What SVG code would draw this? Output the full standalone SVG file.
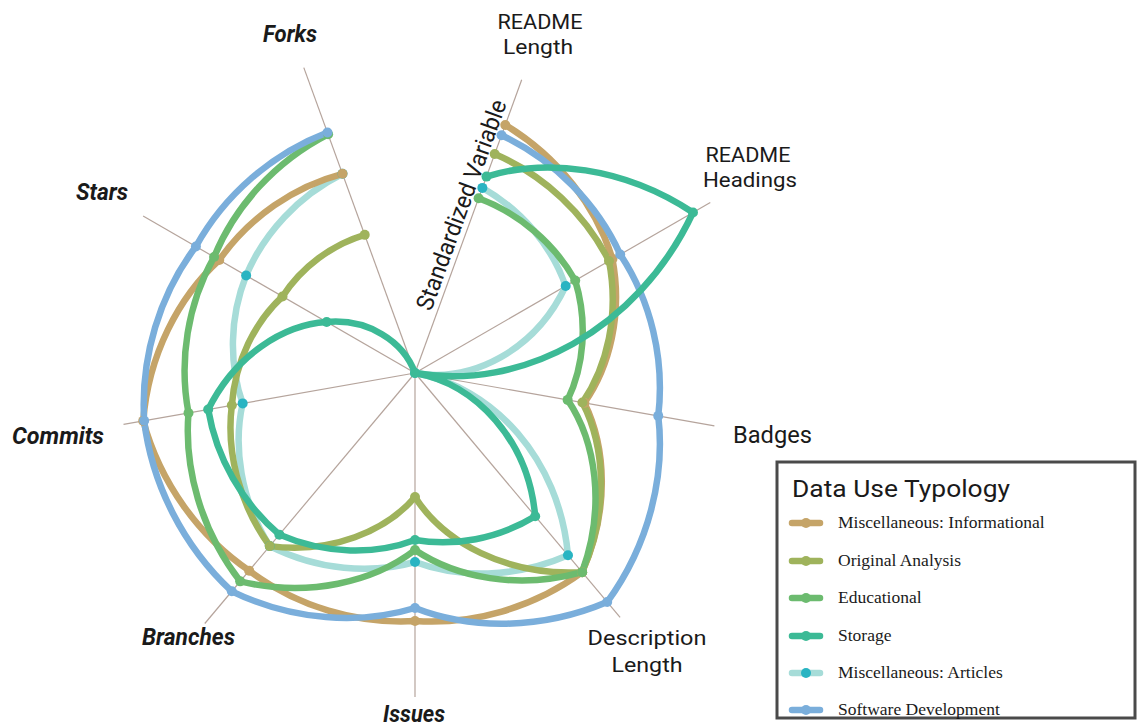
<svg xmlns="http://www.w3.org/2000/svg" width="1138" height="727" viewBox="0 0 1138 727">
<style>
.ax{stroke:#b5a49c;stroke-width:1.2;fill:none}
.ln{fill:none;stroke-width:6.5;stroke-linecap:round;stroke-linejoin:round}
.lbl{font-family:Roboto,"Liberation Sans",sans-serif;font-size:24px;fill:#1a1a1a}
.two{font-size:21px}
.bi{font-weight:bold;font-style:italic}
.leg{font-family:"Liberation Serif",serif;font-size:17.5px;fill:#1a1a1a}
.tan{stroke:#c5a468}.tanf{fill:#c5a468}
.oli{stroke:#9fb35c}.olif{fill:#9fb35c}
.grn{stroke:#6cbb6f}.grnf{fill:#6cbb6f}
.sto{stroke:#3cba96}.stof{fill:#3cba96}
.art{stroke:#a6dcd8}.artf{fill:#29b4c2}
.blu{stroke:#7aaedb}.bluf{fill:#7aaedb}
</style>
<rect width="1138" height="727" fill="#ffffff"/>
<g id="axes" transform="translate(415,373)">
<line class="ax" x1="0" y1="0" x2="106.7" y2="-293.2"/>
<line class="ax" x1="0" y1="0" x2="295.3" y2="-170.5"/>
<line class="ax" x1="0" y1="0" x2="299.4" y2="52.8"/>
<line class="ax" x1="0" y1="0" x2="205.1" y2="244.4"/>
<line class="ax" x1="0" y1="0" x2="0" y2="324"/>
<line class="ax" x1="0" y1="0" x2="-210.2" y2="250.5"/>
<line class="ax" x1="0" y1="0" x2="-291.5" y2="51.4"/>
<line class="ax" x1="0" y1="0" x2="-271.9" y2="-157"/>
<line class="ax" x1="0" y1="0" x2="-111.2" y2="-305.4"/>
</g>
<g id="connectors" transform="translate(415,373)">
<g id="series-articles">
<path class="ln art" d="M67.37,-185.12 C107.83,-162.23 137.07,-125.89 150.68,-87 C120.70,-22.94 57.12,10.07 0,0 C78.13,13.77 144.42,85.94 152.99,182.31 C100.07,205.40 43.98,205.33 0,189 C-43.98,201.33 -97.06,197.47 -145.27,173.12 C-174.62,126.30 -182.01,73.43 -172.34,30.38 C-185.98,-8.56 -185.78,-54.87 -168.87,-97.5 C-151.09,-139.63 -116.92,-177.02 -72.50,-199.22"/>
</g>
<g id="series-informational">
<path class="ln tan" d="M90.29,-248.08 C143.92,-215.79 181.31,-165.95 197.45,-114 C207.81,-58.72 194.72,-6.31 169.39,29.86 C191.33,74.36 194.62,137.80 167.13,199.16 C118.22,234.99 57.71,252 0,248 C-57.71,251.33 -117.71,233.67 -165.84,197.63 C-215.69,163.64 -254.74,110.12 -271.80,47.91 C-266.53,-18.23 -236.46,-75.79 -195.72,-113 C-165.38,-156.21 -120.46,-186.74 -72.50,-199.22"/>
</g>
<g id="series-original">
<path class="ln oli" d="M79.69,-218.95 C129.61,-197.59 170.52,-158.64 193.98,-112 C204.45,-57.86 192.02,-6.33 167.42,29.51 C190.09,73.68 194.19,137.29 167.13,199.16 C91.65,203.33 28.85,169.33 0,124 C-28.85,158 -83.13,180.88 -145.27,173.12 C-176.98,129.11 -188.79,77.22 -183.17,32.29 C-179.85,-12.24 -159.83,-51.17 -132.50,-76.5 C-112.97,-106.33 -83.10,-128.32 -50.27,-138.14"/>
</g>
<g id="series-educational">
<path class="ln grn" d="M63.61,-174.78 C104.17,-159.67 138.97,-129.95 160.21,-92.5 C173.08,-50.22 168.75,-6.87 152.64,26.91 C180.85,68.51 190.97,133.46 167.13,199.16 C103.01,216.86 41.19,204.67 0,177 C-41.19,208.67 -106.00,224.77 -174.84,208.35 C-214.32,156.95 -231.00,95.07 -226.50,39.93 C-236.45,-12.66 -227.33,-68.91 -200.91,-116 C-180.26,-166.43 -139.91,-211.57 -86.87,-238.68"/>
</g>
<g id="series-software">
<path class="ln blu" d="M86.53,-237.74 C140.03,-212.60 182.28,-168.93 205.24,-118.5 C235.71,-72.41 249.95,-14.31 243.25,42.88 C250.34,102.50 234.36,171.02 192.20,229.03 C125.19,257.42 54.68,256.33 0,235 C-54.68,251.67 -121.68,248.17 -183.20,218.31 C-231.86,173.13 -262.99,111.34 -270.82,47.74 C-274.71,-16.55 -254.89,-79.19 -219.10,-126.5 C-190.53,-177.98 -143.19,-219.25 -87.55,-240.56"/>
</g>
<g id="series-storage">
<path class="ln sto" d="M71.48,-196.40 C129.95,-214.85 208.31,-206.52 277.99,-160.5 C222.68,-42.31 105.37,18.58 0,0 C61.38,10.82 113.46,67.52 120.20,143.24 C82.58,166.10 38.86,173.67 0,167 C-38.86,181.67 -88.59,181.95 -135.63,161.63 C-173.03,129.81 -198.66,84.65 -206.81,36.46 C-179.84,-17.92 -131.38,-48.44 -88.33,-51 C-47.02,-54.56 -11.63,-31.95 0,0"/>
</g>
</g>
<g id="markers" transform="translate(415,373)">
<g class="artf">
<circle cx="67.37" cy="-185.12" r="5"/><circle cx="150.68" cy="-87" r="5"/><circle cx="0" cy="0" r="5"/><circle cx="152.99" cy="182.31" r="5"/><circle cx="0" cy="189" r="5"/><circle cx="-145.27" cy="173.12" r="5"/><circle cx="-172.34" cy="30.38" r="5"/><circle cx="-168.87" cy="-97.5" r="5"/><circle cx="-72.50" cy="-199.22" r="5"/>
</g>
<g class="tanf">
<circle cx="90.29" cy="-248.08" r="5"/><circle cx="197.45" cy="-114" r="5"/><circle cx="169.39" cy="29.86" r="5"/><circle cx="167.13" cy="199.16" r="5"/><circle cx="0" cy="248" r="5"/><circle cx="-165.84" cy="197.63" r="5"/><circle cx="-271.80" cy="47.91" r="5"/><circle cx="-195.72" cy="-113" r="5"/><circle cx="-72.50" cy="-199.22" r="5"/>
</g>
<g class="olif">
<circle cx="79.69" cy="-218.95" r="5"/><circle cx="193.98" cy="-112" r="5"/><circle cx="167.42" cy="29.51" r="5"/><circle cx="167.13" cy="199.16" r="5"/><circle cx="0" cy="124" r="5"/><circle cx="-145.27" cy="173.12" r="5"/><circle cx="-183.17" cy="32.29" r="5"/><circle cx="-132.50" cy="-76.5" r="5"/><circle cx="-50.27" cy="-138.14" r="5"/>
</g>
<g class="grnf">
<circle cx="63.61" cy="-174.78" r="5"/><circle cx="160.21" cy="-92.5" r="5"/><circle cx="152.64" cy="26.91" r="5"/><circle cx="167.13" cy="199.16" r="5"/><circle cx="0" cy="177" r="5"/><circle cx="-174.84" cy="208.35" r="5"/><circle cx="-226.50" cy="39.93" r="5"/><circle cx="-200.91" cy="-116" r="5"/><circle cx="-86.87" cy="-238.68" r="5"/>
</g>
<g class="bluf">
<circle cx="86.53" cy="-237.74" r="5"/><circle cx="205.24" cy="-118.5" r="5"/><circle cx="243.25" cy="42.88" r="5"/><circle cx="192.20" cy="229.03" r="5"/><circle cx="0" cy="235" r="5"/><circle cx="-183.20" cy="218.31" r="5"/><circle cx="-270.82" cy="47.74" r="5"/><circle cx="-219.10" cy="-126.5" r="5"/><circle cx="-87.55" cy="-240.56" r="5"/>
</g>
<g class="stof">
<circle cx="71.48" cy="-196.40" r="5"/><circle cx="277.99" cy="-160.5" r="5"/><circle cx="0" cy="0" r="5"/><circle cx="120.20" cy="143.24" r="5"/><circle cx="0" cy="167" r="5"/><circle cx="-135.63" cy="161.63" r="5"/><circle cx="-206.81" cy="36.46" r="5"/><circle cx="-88.33" cy="-51" r="5"/>
</g>
</g>
<g id="axis-labels">
<text class="lbl bi" x="263" y="42" textLength="54" lengthAdjust="spacingAndGlyphs">Forks</text>
<text class="lbl two" x="540" y="29" text-anchor="middle" textLength="85" lengthAdjust="spacingAndGlyphs">README</text>
<text class="lbl two" x="538" y="54" text-anchor="middle" textLength="70" lengthAdjust="spacingAndGlyphs">Length</text>
<text class="lbl two" x="748" y="162" text-anchor="middle" textLength="85" lengthAdjust="spacingAndGlyphs">README</text>
<text class="lbl two" x="750" y="187" text-anchor="middle" textLength="94" lengthAdjust="spacingAndGlyphs">Headings</text>
<text class="lbl" x="733" y="443" textLength="79" lengthAdjust="spacingAndGlyphs">Badges</text>
<text class="lbl two" x="647" y="645" text-anchor="middle" textLength="119" lengthAdjust="spacingAndGlyphs">Description</text>
<text class="lbl two" x="647" y="672" text-anchor="middle" textLength="71" lengthAdjust="spacingAndGlyphs">Length</text>
<text class="lbl bi" x="383" y="722" textLength="62" lengthAdjust="spacingAndGlyphs">Issues</text>
<text class="lbl bi" x="142" y="645" textLength="93" lengthAdjust="spacingAndGlyphs">Branches</text>
<text class="lbl bi" x="12" y="444" textLength="92" lengthAdjust="spacingAndGlyphs">Commits</text>
<text class="lbl bi" x="76" y="200" textLength="52" lengthAdjust="spacingAndGlyphs">Stars</text>
<text class="lbl" x="431" y="312" font-size="23" transform="rotate(-70 431 312)" textLength="222" lengthAdjust="spacingAndGlyphs">Standardized Variable</text>
</g>
<g id="legend">
<rect x="777" y="462" width="358" height="256" fill="#ffffff" stroke="#4a4a4a" stroke-width="3"/>
<text class="lbl" x="792" y="497" font-size="26" textLength="218" lengthAdjust="spacingAndGlyphs">Data Use Typology</text>
<g id="legend-informational"><line class="ln tan" x1="792" y1="523" x2="820" y2="523" stroke-linecap="butt"/><circle class="tanf" cx="806" cy="523" r="5"/><text class="leg" x="838" y="528">Miscellaneous: Informational</text></g>
<g id="legend-original"><line class="ln oli" x1="792" y1="561" x2="820" y2="561" stroke-linecap="butt"/><circle class="olif" cx="806" cy="561" r="5"/><text class="leg" x="838" y="566">Original Analysis</text></g>
<g id="legend-educational"><line class="ln grn" x1="792" y1="598" x2="820" y2="598" stroke-linecap="butt"/><circle class="grnf" cx="806" cy="598" r="5"/><text class="leg" x="838" y="603">Educational</text></g>
<g id="legend-storage"><line class="ln sto" x1="792" y1="636" x2="820" y2="636" stroke-linecap="butt"/><circle class="stof" cx="806" cy="636" r="5"/><text class="leg" x="838" y="641">Storage</text></g>
<g id="legend-articles"><line class="ln art" x1="792" y1="673" x2="820" y2="673" stroke-linecap="butt"/><circle class="artf" cx="806" cy="673" r="5"/><text class="leg" x="838" y="678">Miscellaneous: Articles</text></g>
<g id="legend-software"><line class="ln blu" x1="792" y1="710" x2="820" y2="710" stroke-linecap="butt"/><circle class="bluf" cx="806" cy="710" r="5"/><text class="leg" x="838" y="715">Software Development</text></g>
</g>
</svg>
